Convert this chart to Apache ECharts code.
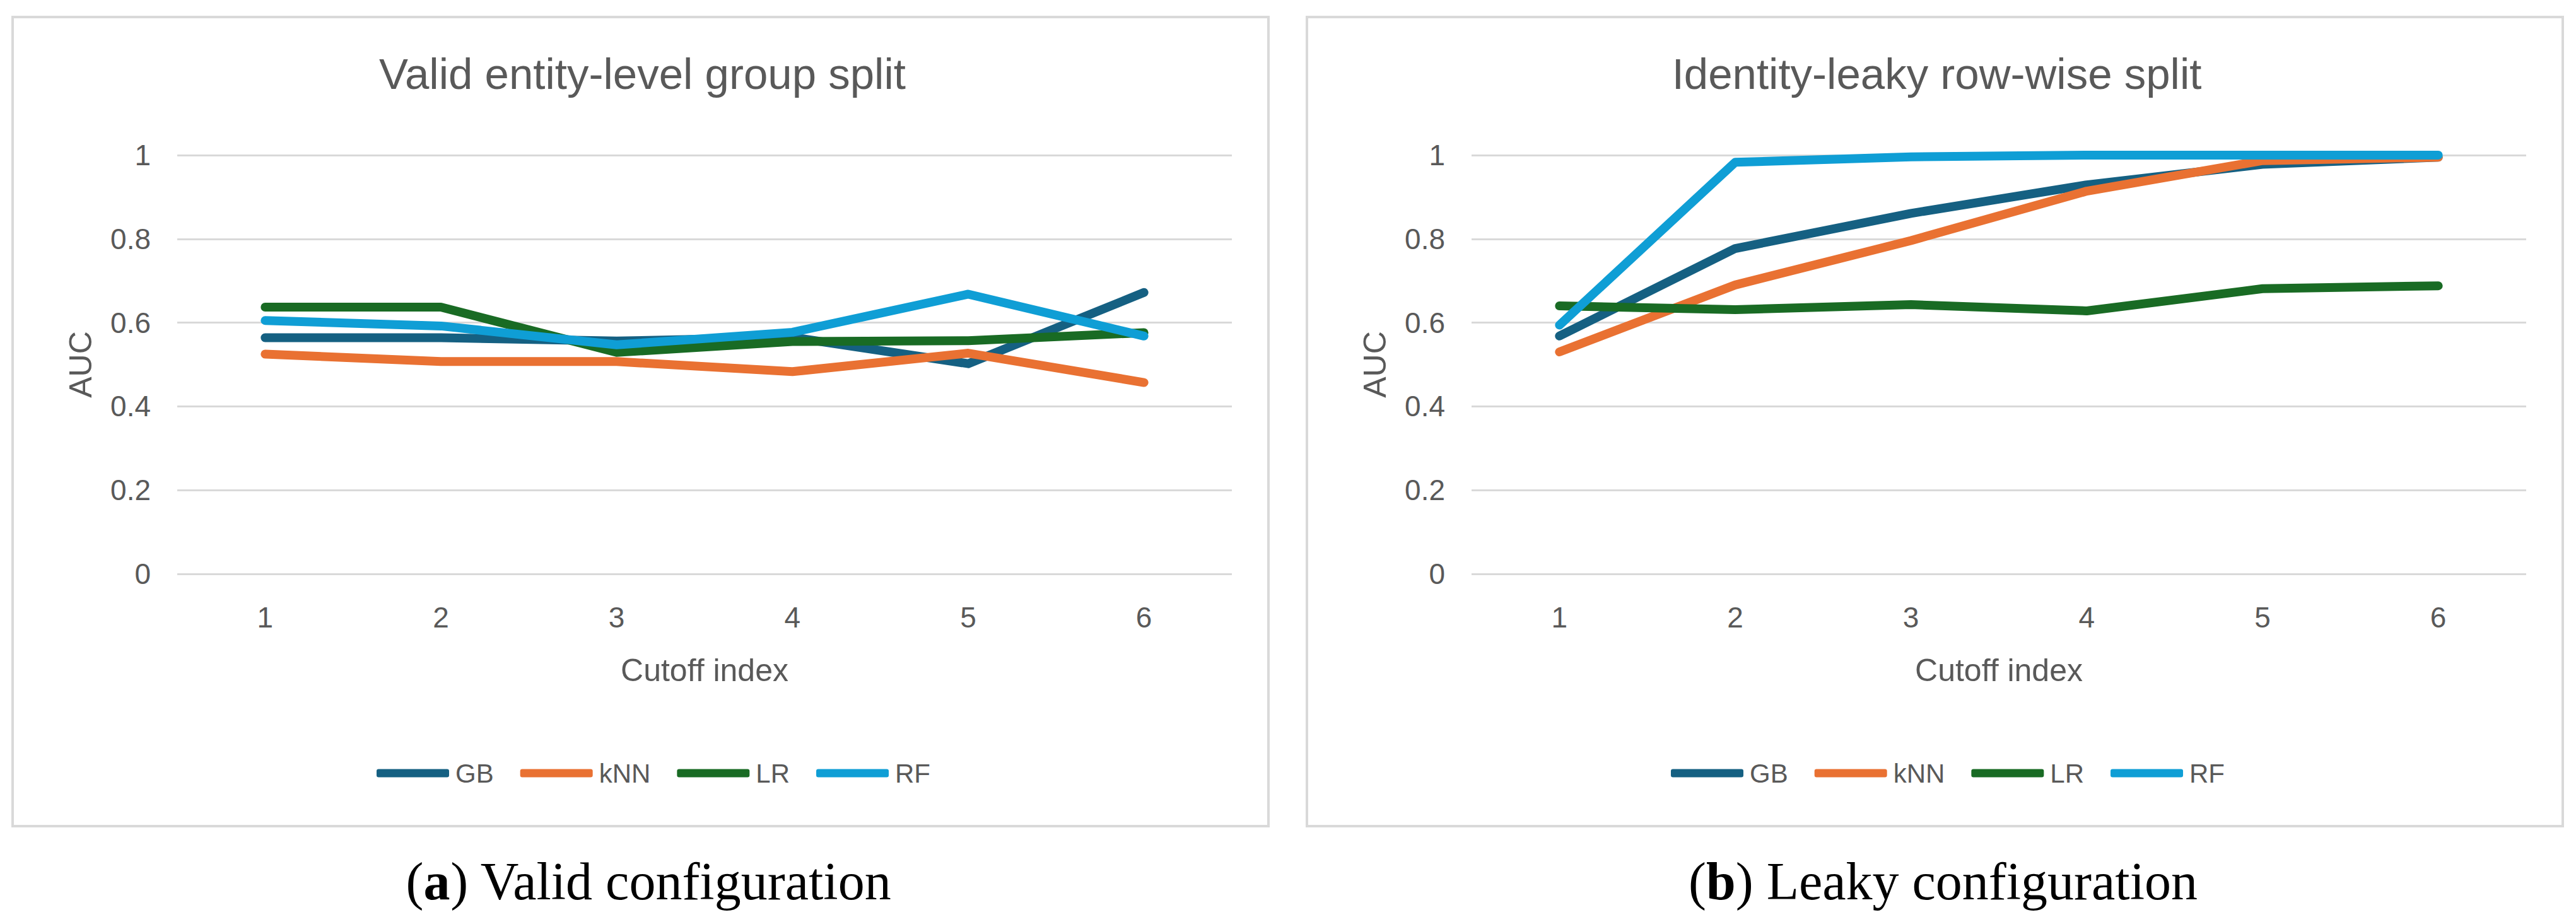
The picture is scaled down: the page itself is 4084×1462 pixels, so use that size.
<!DOCTYPE html>
<html>
<head>
<meta charset="utf-8">
<script src="https://cdn.jsdelivr.net/npm/echarts@6/dist/echarts.min.js"></script>
<style>
  html, body { margin: 0; padding: 0; background: #ffffff; }
  #chart { width: 4084px; height: 1462px; }
</style>
</head>
<body>
<div id="chart"></div>
<script>
// cutoff index categories
const cutoffs = ['1', '2', '3', '4', '5', '6'];
const modelNames = ['GB', 'kNN', 'LR', 'RF'];
const modelColors = ['#156082', '#E97132', '#196B24', '#0F9ED5'];

// (a) valid entity-level group split
const validGB = [0.564, 0.564, 0.556, 0.565, 0.502, 0.672];
const validKNN = [0.525, 0.507, 0.507, 0.483, 0.527, 0.457];
const validLR = [0.637, 0.637, 0.529, 0.555, 0.557, 0.576];
const validRF = [0.605, 0.592, 0.547, 0.577, 0.668, 0.568];

// (b) identity-leaky row-wise split
const leakyGB = [0.568, 0.777, 0.861, 0.929, 0.978, 0.995];
const leakyKNN = [0.530, 0.690, 0.796, 0.914, 0.987, 0.995];
const leakyLR = [0.640, 0.631, 0.643, 0.628, 0.681, 0.688];
const leakyRF = [0.594, 0.983, 0.996, 1.0, 1.0, 1.0];

const panelTitles = ['Valid entity-level group split', 'Identity-leaky row-wise split'];
const captionTags = ['a', 'b'];
const captionTexts = [' Valid configuration', ' Leaky configuration'];

const sans = '"Liberation Sans", Arial, sans-serif';
const serif = '"Liberation Serif", "Times New Roman", serif';
const textGrey = '#595959';
const gridGrey = '#d9d9d9';

// panel geometry (left edge of each panel)
const panelX = [20, 2072];
const panelW = 1991;

const chart = echarts.init(document.getElementById('chart'), null, { renderer: 'svg' });

function makeSeries(values, idx) {
    return values.map((data, i) => ({
        name: modelNames[i],
        type: 'line',
        xAxisIndex: idx,
        yAxisIndex: idx,
        data: data,
        showSymbol: false,
        symbol: 'none',
        color: modelColors[i],
        lineStyle: { width: 14, color: modelColors[i], cap: 'round', join: 'round' },
        emphasis: { disabled: true },
        animation: false
    }));
}

const panels = [0, 1];

const option = {
    backgroundColor: '#ffffff',
    animation: false,
    title: panels.map(i => ({
        text: panelTitles[i],
        left: panelX[i] + panelW / 2 - 2,
        top: 78,
        textAlign: 'center',
        textStyle: { fontFamily: sans, fontSize: 69, fontWeight: 'normal', color: textGrey }
    })).concat(panels.map(i => ({
        text: '(' + '{b|' + captionTags[i] + '}' + ')' + captionTexts[i],
        left: panelX[i] + panelW / 2 + 8,
        top: 1350,
        textAlign: 'center',
        textStyle: {
            fontFamily: serif,
            fontSize: 84, fontWeight: 'normal', color: '#000000',
            rich: {
                b: { fontFamily: serif, fontSize: 84, fontWeight: 'bold', color: '#000000' }
            }
        }
    }))),
    legend: panels.map(i => ({
        data: modelNames,
        left: panelX[i] + 572,
        top: 1200,
        itemWidth: 115,
        itemHeight: 13,
        itemGap: 42,
        icon: 'roundRect',
        selectedMode: false,
        textStyle: { fontFamily: sans, fontSize: 42, color: textGrey, padding: [0, 0, 0, 5] }
    })),
    grid: panels.map(i => ({
        left: panelX[i] + 261,
        width: 1672,
        top: 246,
        height: 664,
        containLabel: false
    })),
    xAxis: panels.map(i => ({
        type: 'category',
        gridIndex: i,
        data: cutoffs,
        boundaryGap: true,
        name: 'Cutoff index',
        nameLocation: 'middle',
        nameGap: 128,
        nameTextStyle: { fontFamily: sans, fontSize: 50, color: textGrey },
        axisLine: { show: false },
        axisTick: { show: false },
        axisLabel: { fontFamily: sans, fontSize: 46, color: textGrey, margin: 46 }
    })),
    yAxis: panels.map(i => ({
        type: 'value',
        gridIndex: i,
        min: 0,
        max: 1,
        interval: 0.2,
        name: 'AUC',
        nameLocation: 'middle',
        nameGap: 128,
        nameRotate: 90,
        nameTextStyle: { fontFamily: sans, fontSize: 50, color: textGrey },
        axisLine: { show: false },
        axisTick: { show: false },
        axisLabel: { fontFamily: sans, fontSize: 46, color: textGrey, margin: 42 },
        splitLine: { show: true, lineStyle: { color: gridGrey, width: 3 } }
    })),
    graphic: panels.map(i => ({
        type: 'rect',
        z: -10,
        shape: { x: panelX[i], y: 27, width: panelW, height: 1283 },
        style: { fill: 'none', stroke: gridGrey, lineWidth: 4 },
        silent: true
    })),
    series: makeSeries([validGB, validKNN, validLR, validRF], 0)
        .concat(makeSeries([leakyGB, leakyKNN, leakyLR, leakyRF], 1))
};

chart.setOption(option);
</script>
</body>
</html>
